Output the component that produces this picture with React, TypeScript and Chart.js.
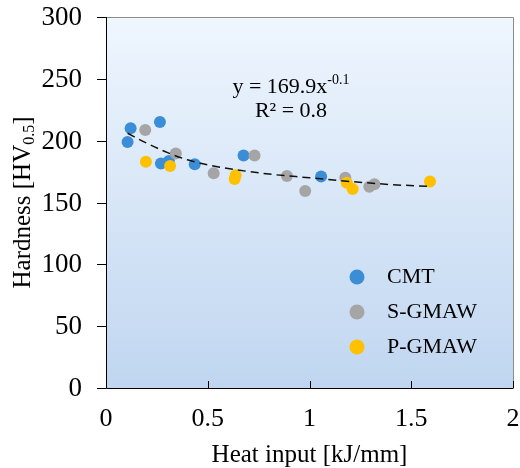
import React, { useEffect, useRef } from "react";
import { Chart, registerables } from "chart.js";

Chart.register(...registerables);

const cmtX = [0.106, 0.121, 0.265, 0.27, 0.309, 0.436, 0.676, 1.057];
const cmtY = [199, 210, 215, 181.5, 183.5, 181, 188, 171];
const sgX = [0.193, 0.343, 0.529, 0.73, 0.889, 0.979, 1.176, 1.294, 1.319];
const sgY = [208.6, 189.7, 173.6, 188, 171.4, 159.3, 170, 162.8, 164.7];
const pgX = [0.196, 0.315, 0.632, 0.637, 1.183, 1.212, 1.592];
const pgY = [183, 179.5, 169, 172, 166, 161, 167];
const trendX = [0.106, 0.2, 0.3, 0.4, 0.5, 0.6, 0.8, 1.0, 1.2, 1.4, 1.59];
const trendY = [206, 198, 190.5, 184.5, 180.5, 177.5, 173, 170, 167, 164.5, 163];
const xTicks = [0, 0.5, 1, 1.5, 2];
const yTicks = [0, 50, 100, 150, 200, 250, 300];
const seriesNames = ["CMT", "S-GMAW", "P-GMAW"];
const seriesColors = ["#3B8ED6", "#A5A5A5", "#FFC000"];
const xTitle = "Heat input [kJ/mm]";
const yTitleMain = "Hardness [HV";
const yTitleSub = "0.5";
const yTitleEnd = "]";
const eqMain = "y = 169.9x";
const eqSup = "-0.1";
const r2Text = "R\u00B2 = 0.8";

const FONT = '"Liberation Serif", "Times New Roman", serif';

const pts = (xs: number[], ys: number[]) => xs.map((x, i) => ({ x, y: ys[i] }));

const decor = {
  id: "decor",
  beforeDraw(chart: any) {
    const { ctx, chartArea: a } = chart;
    const g = ctx.createLinearGradient(0, a.top, 0, a.bottom);
    g.addColorStop(0, "rgb(239,246,254)");
    g.addColorStop(1, "rgb(192,214,240)");
    ctx.save();
    ctx.fillStyle = g;
    ctx.fillRect(a.left, a.top, a.right - a.left, a.bottom - a.top);
    ctx.restore();
  },
  afterDraw(chart: any) {
    const { ctx, chartArea: a, scales } = chart;
    const xs = scales.x, ys = scales.y;
    ctx.save();
    // frame top/right
    ctx.strokeStyle = "#8c8c8c";
    ctx.lineWidth = 1;
    ctx.beginPath();
    ctx.moveTo(a.left, a.top + 0.5);
    ctx.lineTo(a.right + 0.5, a.top + 0.5);
    ctx.lineTo(a.right + 0.5, a.bottom);
    ctx.stroke();
    // axes
    ctx.strokeStyle = "#000";
    ctx.beginPath();
    ctx.moveTo(a.left + 0.5, a.top);
    ctx.lineTo(a.left + 0.5, a.bottom + 0.5);
    ctx.lineTo(a.right + 0.5, a.bottom + 0.5);
    ctx.stroke();
    // y ticks outward
    ctx.beginPath();
    yTicks.forEach((v) => {
      const py = Math.round(ys.getPixelForValue(v)) + 0.5;
      ctx.moveTo(a.left - 9, py);
      ctx.lineTo(a.left, py);
    });
    // x ticks inward
    xTicks.forEach((v) => {
      const px = Math.round(xs.getPixelForValue(v)) + 0.5;
      ctx.moveTo(px, a.bottom);
      ctx.lineTo(px, a.bottom - 7);
    });
    ctx.stroke();

    ctx.fillStyle = "#000";
    // tick labels
    ctx.font = `27px ${FONT}`;
    ctx.textAlign = "right";
    ctx.textBaseline = "middle";
    yTicks.forEach((v) => {
      ctx.fillText(String(v), 82, ys.getPixelForValue(v) + 1);
    });
    ctx.font = `26px ${FONT}`;
    ctx.textAlign = "center";
    xTicks.forEach((v) => {
      ctx.fillText(String(v), xs.getPixelForValue(v), 419);
    });

    // x title
    ctx.font = `25px ${FONT}`;
    ctx.textAlign = "center";
    ctx.textBaseline = "alphabetic";
    ctx.fillText(xTitle, (a.left + a.right) / 2, 462);

    // y title rotated with subscript
    ctx.save();
    ctx.translate(30, (a.top + a.bottom) / 2);
    ctx.rotate(-Math.PI / 2);
    ctx.textAlign = "left";
    ctx.font = `25px ${FONT}`;
    const w1 = ctx.measureText(yTitleMain).width;
    const w3 = ctx.measureText(yTitleEnd).width;
    ctx.font = `16px ${FONT}`;
    const w2 = ctx.measureText(yTitleSub).width;
    let sx = -(w1 + w2 + w3) / 2;
    ctx.font = `25px ${FONT}`;
    ctx.fillText(yTitleMain, sx, 0);
    sx += w1;
    ctx.font = `16px ${FONT}`;
    ctx.fillText(yTitleSub, sx, 4);
    sx += w2;
    ctx.font = `25px ${FONT}`;
    ctx.fillText(yTitleEnd, sx, 0);
    ctx.restore();

    // equation
    ctx.textAlign = "left";
    ctx.font = `22px ${FONT}`;
    const e1 = ctx.measureText(eqMain).width;
    ctx.font = `14px ${FONT}`;
    const e2 = ctx.measureText(eqSup).width;
    const cx = 291;
    const ex = cx - (e1 + e2) / 2;
    ctx.font = `22px ${FONT}`;
    ctx.fillText(eqMain, ex, 93);
    ctx.font = `14px ${FONT}`;
    ctx.fillText(eqSup, ex + e1, 84);
    ctx.font = `22px ${FONT}`;
    ctx.textAlign = "center";
    ctx.fillText(r2Text, cx, 117);

    // legend
    const ly = [277, 312, 347];
    const lb = [283, 318, 353];
    ctx.textAlign = "left";
    seriesNames.forEach((n, i) => {
      ctx.fillStyle = seriesColors[i];
      ctx.beginPath();
      ctx.arc(357, ly[i], 7.5, 0, Math.PI * 2);
      ctx.fill();
      ctx.fillStyle = "#000";
      ctx.font = `22px ${FONT}`;
      ctx.fillText(n, 387, lb[i]);
    });
    ctx.restore();
  },
};

export default function App() {
  const ref = useRef<HTMLCanvasElement | null>(null);
  useEffect(() => {
    if (!ref.current) return;
    const mk = (i: number, xs: number[], ys: number[], order: number) => ({
      label: seriesNames[i],
      data: pts(xs, ys),
      backgroundColor: seriesColors[i],
      borderColor: seriesColors[i],
      borderWidth: 0,
      pointRadius: 6,
      order,
    });
    const chart = new Chart(ref.current, {
      type: "scatter",
      data: {
        datasets: [
          {
            label: "trend",
            data: pts(trendX, trendY),
            showLine: true,
            borderColor: "#111",
            borderWidth: 1.5,
            borderDash: [8, 5],
            pointRadius: 0,
            cubicInterpolationMode: "monotone",
            order: -1,
          } as any,
          mk(0, cmtX, cmtY, 3),
          mk(1, sgX, sgY, 2),
          mk(2, pgX, pgY, 1),
        ],
      },
      options: {
        animation: false,
        responsive: false,
        devicePixelRatio: 1,
        layout: { padding: { top: 17, right: 7, left: 0, bottom: 0 } },
        plugins: { legend: { display: false }, tooltip: { enabled: false } },
        scales: {
          x: {
            type: "linear",
            min: 0,
            max: 2,
            grid: { display: false, drawTicks: false, tickLength: 0 },
            border: { display: false },
            afterBuildTicks: (ax: any) => {
              ax.ticks = xTicks.map((v) => ({ value: v }));
            },
            afterFit: (ax: any) => {
              ax.height = 80;
            },
            ticks: { display: false },
          },
          y: {
            type: "linear",
            min: 0,
            max: 300,
            grid: { display: false, drawTicks: false, tickLength: 0 },
            border: { display: false },
            afterBuildTicks: (ax: any) => {
              ax.ticks = yTicks.map((v) => ({ value: v }));
            },
            afterFit: (ax: any) => {
              ax.width = 106;
            },
            ticks: { display: false },
          },
        },
      },
      plugins: [decor],
    });
    return () => chart.destroy();
  }, []);
  return (
    <div style={{ position: "absolute", left: 0, top: 0, width: 520, height: 468, background: "#fff" }}>
      <canvas ref={ref} width={520} height={468} style={{ width: 520, height: 468 }} />
    </div>
  );
}
